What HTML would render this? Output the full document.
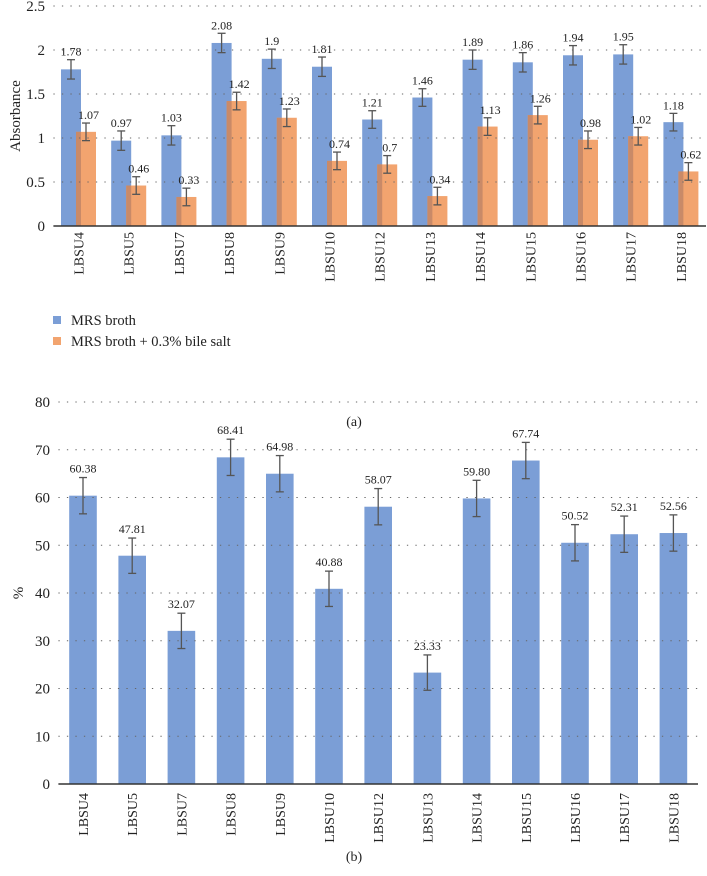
<!DOCTYPE html>
<html><head><meta charset="utf-8">
<style>
html,body{margin:0;padding:0;background:#fff;}
svg{display:block;font-family:"Liberation Serif",serif;}
text{font-family:"Liberation Serif",serif;}
</style></head>
<body>
<svg id="fig" width="707" height="876" viewBox="0 0 707 876"></svg>
<script>
const categories = ["LBSU4","LBSU5","LBSU7","LBSU8","LBSU9","LBSU10","LBSU12","LBSU13","LBSU14","LBSU15","LBSU16","LBSU17","LBSU18"];
const mrsValues = [1.78,0.97,1.03,2.08,1.9,1.81,1.21,1.46,1.89,1.86,1.94,1.95,1.18];
const mrsErrors = [0.11,0.11,0.11,0.11,0.11,0.11,0.1,0.1,0.11,0.11,0.11,0.11,0.1];
const mrsLabels = ["1.78","0.97","1.03","2.08","1.9","1.81","1.21","1.46","1.89","1.86","1.94","1.95","1.18"];
const bileValues = [1.07,0.46,0.33,1.42,1.23,0.74,0.7,0.34,1.13,1.26,0.98,1.02,0.62];
const bileErrors = [0.1,0.1,0.1,0.1,0.1,0.1,0.1,0.1,0.1,0.1,0.1,0.1,0.1];
const bileLabels = ["1.07","0.46","0.33","1.42","1.23","0.74","0.7","0.34","1.13","1.26","0.98","1.02","0.62"];
const aTicks = [0,0.5,1,1.5,2,2.5];
const aTickLabels = ["0","0.5","1","1.5","2","2.5"];
const pctValues = [60.38,47.81,32.07,68.41,64.98,40.88,58.07,23.33,59.80,67.74,50.52,52.31,52.56];
const pctErrors = [3.8,3.7,3.7,3.8,3.8,3.7,3.8,3.7,3.8,3.8,3.8,3.8,3.8];
const pctLabels = ["60.38","47.81","32.07","68.41","64.98","40.88","58.07","23.33","59.80","67.74","50.52","52.31","52.56"];
const bTicks = [0,10,20,30,40,50,60,70,80];
const bTickLabels = ["0","10","20","30","40","50","60","70","80"];

const svg = document.getElementById('fig');
const NS = 'http://www.w3.org/2000/svg';
function mk(tag, attrs, parent){
  const e = document.createElementNS(NS, tag);
  for (const k in attrs) e.setAttribute(k, attrs[k]);
  (parent||svg).appendChild(e);
  return e;
}
function txt(x,y,s,size,anchor,parent,rot){
  const t = mk('text',{x:x,y:y,'font-size':size,'text-anchor':anchor||'middle',fill:'#222','font-family':'Liberation Serif, serif'},parent);
  if (rot) t.setAttribute('transform','rotate(-90 '+x+' '+y+')');
  t.textContent = s;
  return t;
}
function errBar(g,x,y1,y2){
  const c='#555';
  mk('line',{x1:x,x2:x,y1:y1,y2:y2,stroke:c,'stroke-width':1.3},g);
  mk('line',{x1:x-4,x2:x+4,y1:y1,y2:y1,stroke:c,'stroke-width':1.3},g);
  mk('line',{x1:x-4,x2:x+4,y1:y2,y2:y2,stroke:c,'stroke-width':1.3},g);
}

// ===== Chart A =====
const A = {x0:53.4, x1:706, y0:226, yTop:6, max:2.5};
const ay = v => A.y0 - (v/A.max)*(A.y0-A.yTop);
const aStep = (A.x1-A.x0)/categories.length;
const ax = i => A.x0 + aStep*(i+0.5);
const gA = mk('g',{});


const gAt = mk('g',{},gA);


aTicks.forEach((t,i)=>{ txt(45, ay(t)+5, aTickLabels[i], 15, 'end', gAt); });
const tA = txt(20, 116, 'Absorbance', 15, 'middle', gA, true);


categories.forEach((c,i)=>{
  const cx = ax(i);
  const g = mk('g',{},gA);
  
  
  const b1 = mk('rect',{x:cx-17.5,y:ay(mrsValues[i]),width:20,height:A.y0-ay(mrsValues[i]),fill:'#7b9ed6'},g);
  
  
  const b2 = mk('rect',{x:cx-2.5,y:ay(bileValues[i]),width:20,height:A.y0-ay(bileValues[i]),fill:'#f2a46f'},g);
  
  
  const ovTop = Math.max(ay(bileValues[i]), ay(mrsValues[i]));
  mk('rect',{x:cx-2.5,y:ovTop,width:5,height:A.y0-ovTop,fill:'#c98a68'},g);
  const m1 = mrsValues[i], e1 = mrsErrors[i];
  errBar(g, cx-7.5, ay(m1+e1), ay(m1-e1));
  txt(cx-7.5, ay(m1+e1)-4, mrsLabels[i], 12, 'middle', g);
  const m2 = bileValues[i], e2 = bileErrors[i];
  errBar(g, cx+7.5, ay(m2+e2), ay(m2-e2));
  txt(cx+10, ay(m2+e2)-4, bileLabels[i], 12, 'middle', g);
  const lab = txt(cx+5, 232, c, 14, 'end', gA, true);
  
  
});
const gAg = mk('g',{},gA);


aTicks.forEach(t=>{ if(t>0) mk('line',{x1:A.x0,x2:A.x1,y1:ay(t),y2:ay(t),stroke:'#666','stroke-width':1,'stroke-dasharray':'1.3 7.2'},gAg); });
const axA = mk('line',{x1:A.x0,x2:A.x1,y1:A.y0,y2:A.y0,stroke:'#333','stroke-width':1.5},gA);



// legend
const lg = mk('g',{});


const l1 = mk('g',{},lg);


mk('rect',{x:53,y:316,width:8,height:8,fill:'#7b9ed6'},l1);
txt(71,325,'MRS broth',14.5,'start',l1);
const l2 = mk('g',{},lg);


mk('rect',{x:53,y:337,width:8,height:8,fill:'#f2a46f'},l2);
txt(71,346,'MRS broth + 0.3% bile salt',14.5,'start',l2);
const capA = txt(354,426,'(a)',14,'middle');



// ===== Chart B =====
const B = {x0:58.4, x1:698, y0:784, yTop:402, max:80};
const by = v => B.y0 - (v/B.max)*(B.y0-B.yTop);
const bStep = (B.x1-B.x0)/categories.length;
const bx = i => B.x0 + bStep*(i+0.5);
const gB = mk('g',{});


const gBt = mk('g',{},gB);


bTicks.forEach((t,i)=>{ txt(50, by(t)+5, bTickLabels[i], 15, 'end', gBt); });
const tB = txt(23, 593, '%', 15, 'middle', gB, true);


categories.forEach((c,i)=>{
  const cx = bx(i);
  const g = mk('g',{},gB);
  
  
  const b = mk('rect',{x:cx-13.8,y:by(pctValues[i]),width:27.6,height:B.y0-by(pctValues[i]),fill:'#7b9ed6'},g);
  
  
  const v = pctValues[i], e = pctErrors[i];
  errBar(g, cx, by(v+e), by(v-e));
  txt(cx, by(v+e)-5, pctLabels[i], 12, 'middle', g);
  const lab = txt(cx+5, 793, c, 14, 'end', gB, true);
  
  
});
const gBg = mk('g',{},gB);


bTicks.forEach(t=>{ if(t>0) mk('line',{x1:B.x0,x2:B.x1,y1:by(t),y2:by(t),stroke:'#666','stroke-width':1,'stroke-dasharray':'1.3 7.2'},gBg); });
const axB = mk('line',{x1:B.x0,x2:B.x1,y1:B.y0,y2:B.y0,stroke:'#333','stroke-width':1.5},gB);


const capB = txt(354,861,'(b)',14,'middle');


</script>
</body></html>
